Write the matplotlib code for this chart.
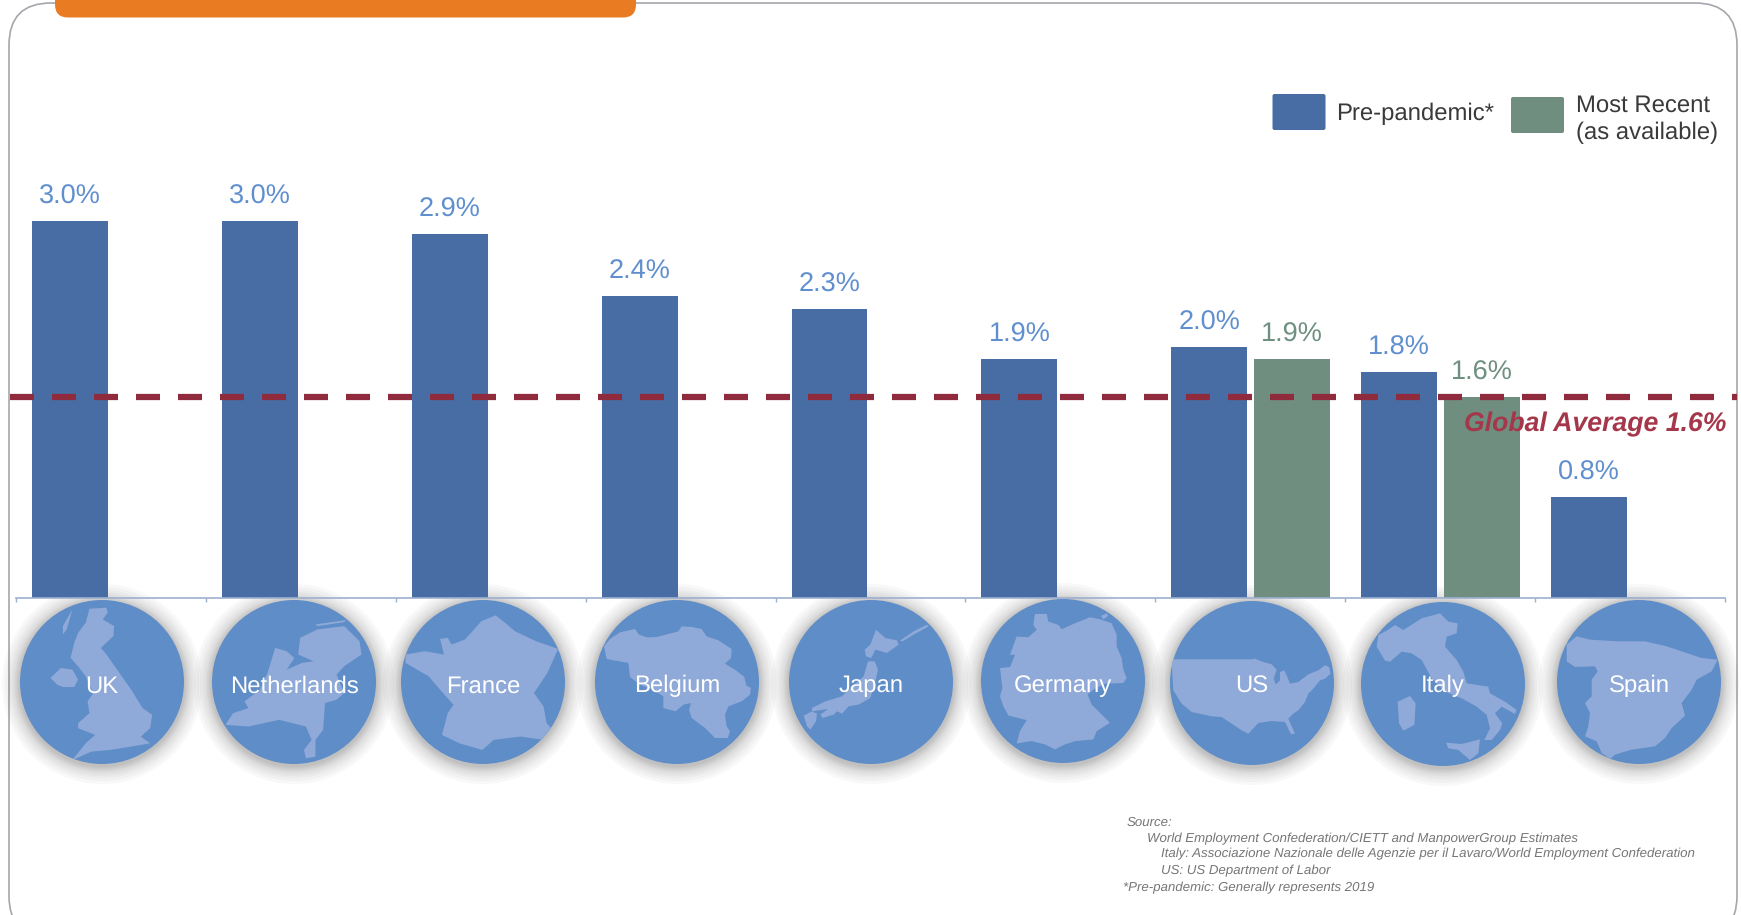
import matplotlib
matplotlib.use("Agg")
import matplotlib.pyplot as plt
from matplotlib.patches import Circle, FancyBboxPatch, Polygon
import numpy as np

plt.rcParams["font.family"] = ["Liberation Sans", "DejaVu Sans"]
plt.rcParams["text.hinting"] = "none"

W, H = 1741, 915

# chart values
countries = ["UK", "Netherlands", "France", "Belgium", "Japan", "Germany", "US", "Italy", "Spain"]
pre_pandemic = [3.0, 3.0, 2.9, 2.4, 2.3, 1.9, 2.0, 1.8, 0.8]
most_recent = [None, None, None, None, None, None, 1.9, 1.6, None]
global_average = 1.6

BLUE = "#476DA4"
GREEN = "#6F8E7F"
LABEL_BLUE = "#5F8FCE"
LABEL_GREEN = "#6F8F80"
RED = "#8F2B3C"
DISC = "#5F8DC8"
LAND = "#8FA9D8"

# country silhouettes, traced by eye: centre x, centre y, radius x, radius y, outlines
uk_map = (268, 307, 216, 245, [
    [(235, 88), (280, 85), (283, 100), (270, 120), (300, 140), (298, 170), (265, 205), (280, 225), (320, 290),
     (345, 330), (375, 385), (400, 405), (395, 445), (370, 470), (395, 490), (345, 500), (290, 510), (240, 515),
     (190, 540), (225, 490), (250, 465), (205, 445), (205, 430), (235, 400), (230, 365), (245, 340), (225, 290),
     (205, 260), (185, 235), (195, 190), (205, 160), (225, 130)],
    [(132, 295), (160, 265), (190, 270), (205, 300), (195, 322), (165, 322), (150, 315)],
    [(165, 140), (190, 90), (175, 150), (165, 165)],
])
nl_map = (769, 307, 214, 245, [
    [(785, 175), (830, 150), (900, 140), (940, 185), (945, 225), (900, 260), (880, 285), (900, 340), (880, 360),
     (850, 370), (845, 450), (825, 480), (825, 530), (800, 535), (795, 510), (815, 480), (800, 440), (730, 420),
     (650, 440), (590, 435), (610, 400), (650, 385), (640, 365), (680, 330), (700, 280), (720, 205), (750, 215),
     (770, 235), (750, 270), (790, 250), (820, 245), (780, 225)],
    [(825, 135), (905, 122), (900, 128), (830, 140)],
])
fr_map = (1262, 307, 214, 245, [
    [(1258, 125), (1295, 108), (1325, 135), (1345, 155), (1400, 185), (1458, 208), (1430, 280), (1395, 340),
     (1420, 380), (1428, 430), (1440, 445), (1420, 480), (1360, 470), (1290, 480), (1260, 510), (1200, 490),
     (1155, 465), (1170, 400), (1185, 375), (1150, 330), (1120, 290), (1060, 250), (1060, 225), (1110, 215),
     (1160, 225), (1150, 178), (1170, 175), (1180, 195), (1215, 180)],
])
be_map = (276, 277, 246, 246, [
    [(57, 170), (75, 148), (105, 128), (150, 118), (162, 135), (185, 143), (215, 142), (250, 133), (280, 125),
     (290, 110), (320, 112), (350, 118), (365, 140), (400, 152), (440, 178), (438, 205), (420, 222), (450, 240),
     (478, 262), (484, 288), (498, 295), (495, 315), (470, 335), (430, 350), (420, 375), (425, 410), (435, 425),
     (428, 445), (390, 445), (360, 415), (320, 385), (312, 360), (318, 340), (295, 345), (272, 365), (235, 355),
     (235, 320), (205, 300), (165, 285), (135, 262), (130, 220), (65, 208)],
])
jp_map = (857, 277, 246, 246, [
    [(872, 120), (900, 145), (935, 152), (940, 165), (905, 190), (870, 180), (858, 205), (842, 200), (838, 180),
     (855, 165)],
    [(848, 215), (868, 215), (878, 240), (868, 285), (855, 325), (820, 345), (790, 350), (770, 372), (755, 365),
     (745, 375), (712, 385), (705, 375), (728, 358), (680, 365), (680, 355), (720, 335), (770, 320), (800, 290),
     (835, 260)],
    [(655, 378), (680, 365), (695, 372), (692, 395), (675, 420), (665, 410)],
    [(945, 152), (985, 125), (1025, 105), (1030, 110), (990, 132), (950, 156)],
])
de_map = (294, 274, 246, 247, [
    [(210, 72), (245, 72), (250, 95), (280, 105), (290, 118), (330, 100), (375, 82), (405, 88), (440, 100),
     (455, 135), (455, 170), (470, 205), (475, 240), (485, 265), (475, 280), (420, 282), (385, 300), (368, 315),
     (380, 345), (435, 400), (395, 425), (385, 450), (330, 455), (300, 465), (270, 480), (240, 465), (200, 455),
     (155, 462), (165, 425), (185, 392), (130, 378), (115, 350), (105, 320), (112, 295), (105, 235), (135, 232),
     (150, 195), (135, 195), (155, 140), (190, 142), (215, 120), (205, 105)],
    [(408, 78), (425, 70), (430, 78), (415, 88)],
])
us_map = (861, 278, 246, 246, [
    [(620, 207), (860, 207), (870, 205), (895, 215), (920, 222), (935, 238), (926, 265), (932, 282), (945, 270),
     (945, 245), (958, 240), (968, 262), (975, 280), (1000, 275), (1030, 252), (1060, 240), (1080, 225),
     (1092, 230), (1097, 250), (1080, 265), (1065, 270), (1045, 295), (1030, 310), (1020, 335), (1000, 360),
     (985, 370), (970, 385), (990, 430), (978, 432), (960, 395), (920, 392), (880, 398), (850, 430), (830, 420),
     (800, 400), (770, 380), (740, 378), (680, 365), (650, 340), (625, 300), (622, 250)],
])
it_map = (294, 282, 246, 246, [
    [(100, 135), (125, 122), (150, 105), (175, 120), (230, 85), (285, 70), (310, 95), (338, 100), (335, 130),
     (305, 140), (300, 170), (335, 210), (355, 245), (365, 280), (430, 290), (435, 310), (480, 335), (515, 360),
     (510, 372), (470, 350), (450, 370), (472, 400), (465, 420), (440, 450), (418, 450), (435, 415), (425, 375),
     (395, 350), (350, 325), (300, 305), (260, 265), (230, 210), (200, 190), (170, 185), (135, 215), (120, 212),
     (95, 170)],
    [(158, 335), (195, 318), (212, 340), (208, 405), (175, 422), (162, 400)],
    [(303, 458), (350, 462), (405, 448), (400, 490), (375, 510), (340, 480), (310, 475)],
])
es_map = (882, 277, 246, 246, [
    [(665, 165), (695, 140), (735, 150), (820, 155), (900, 155), (965, 170), (1010, 185), (1070, 205), (1118, 210),
     (1100, 245), (1055, 270), (1040, 300), (1010, 340), (1020, 378), (980, 415), (960, 445), (930, 470),
     (860, 480), (810, 495), (795, 508), (770, 490), (755, 455), (720, 440), (730, 410), (735, 370), (720, 340),
     (740, 320), (740, 270), (758, 245), (750, 230), (690, 232), (665, 215)],
])
country_maps = [uk_map, nl_map, fr_map, be_map, jp_map, de_map, us_map, it_map, es_map]
disc_x = [102, 294, 483, 677, 871, 1063, 1252, 1443, 1639]
disc_y = [682, 682, 682, 682, 682, 681, 683, 684, 682]
DISC_R = 82

fig = plt.figure(figsize=(W / 100, H / 100), dpi=100)

# pixel-space layer for the slide furniture
bg = fig.add_axes([0, 0, 1, 1])
bg.set_xlim(0, W)
bg.set_ylim(H, 0)
bg.axis("off")

bg.add_patch(FancyBboxPatch((9, 3), 1728, 935, boxstyle="round,pad=0,rounding_size=42",
                            fc="white", ec="#A6A6AC", lw=1.2))
bg.add_patch(FancyBboxPatch((55, -40), 581, 57.5, boxstyle="round,pad=0,rounding_size=13",
                            fc="#E97C22", ec="none"))

for name, cx, cy, (mx, my, rx, ry, outlines) in zip(countries, disc_x, disc_y, country_maps):
    # soft shadow, packed tighter near the edge of the disc
    for grow in [18, 15, 12, 10, 8, 6, 5, 4, 3, 2, 1]:
        bg.add_patch(Circle((cx, cy + 2), DISC_R + grow, fc="#666666", ec="none", alpha=0.045))
    disc = Circle((cx, cy), DISC_R, fc=DISC, ec="none", zorder=3)
    bg.add_patch(disc)
    for outline in outlines:
        pts = [(cx + (x - mx) / rx * DISC_R, cy + (y - my) / ry * DISC_R) for x, y in outline]
        land = Polygon(pts, closed=True, fc=LAND, ec="none", zorder=4)
        bg.add_patch(land)
        land.set_clip_path(disc)
    bg.text(cx, 692.5, name, color="white", fontsize=17.2, ha="center", va="baseline", zorder=5)

# legend
bg.add_patch(FancyBboxPatch((1272.5, 94), 53, 36, boxstyle="round,pad=0,rounding_size=2", fc=BLUE, ec="none"))
bg.add_patch(FancyBboxPatch((1511, 97), 53, 36, boxstyle="round,pad=0,rounding_size=2", fc=GREEN, ec="none"))
bg.text(1336, 114, "Pre-pandemic*", color="#3A3A3A", fontsize=17.2, va="center")
bg.text(1576, 106, "Most Recent", color="#3A3A3A", fontsize=17.2, va="center")
bg.text(1576, 133, "(as available)", color="#3A3A3A", fontsize=17.2, va="center")

# source note
notes = [
    (1127, 823, "Source:"),
    (1147, 839, "World Employment Confederation/CIETT and ManpowerGroup Estimates"),
    (1161, 854, "Italy: Associazione Nazionale delle Agenzie per il Lavaro/World Employment Confederation"),
    (1161, 871, "US: US Department of Labor"),
    (1123, 888, "*Pre-pandemic: Generally represents 2019"),
]
for x, y, line in notes:
    bg.text(x, y, line, color="#767676", fontsize=9.5, style="italic", va="center")

# the bar chart
ax = fig.add_axes([16 / W, (H - 597.5) / H, 1709 / W, 3.5 * 125.5 / H])
ax.patch.set_alpha(0)
pos = np.arange(len(countries))
width = 0.4
blue_x = pos - 0.216
green_x = pos + 0.2185
recent = [np.nan if v is None else v for v in most_recent]
ax.bar(blue_x, pre_pandemic, width, color=BLUE, zorder=2)
ax.bar(green_x, recent, width, color=GREEN, zorder=2)

for x, v in zip(blue_x, pre_pandemic):
    ax.annotate(f"{v:.1f}%", (x, v), xytext=(0, 12.4), textcoords="offset points",
                ha="center", va="baseline", color=LABEL_BLUE, fontsize=19.5)
for x, v in zip(green_x, most_recent):
    if v is not None:
        ax.annotate(f"{v:.1f}%", (x, v), xytext=(0, 12.4), textcoords="offset points",
                    ha="center", va="baseline", color=LABEL_GREEN, fontsize=19.5)

ax.plot([-0.5 - 6 / 190, 8.5 + 12 / 190], [global_average - 0.006, global_average - 0.006], color=RED, lw=4.5,
        linestyle=(0, (3.84, 2.88)), dash_capstyle="butt", clip_on=False, zorder=3)
ax.text(8.51, global_average - 0.22, f"Global Average {global_average}%", color="#A5374A", fontsize=19.2,
        fontweight="bold", style="italic", ha="right", va="center", zorder=4)

ax.set_xlim(-0.5, 8.5)
ax.set_ylim(0, 3.5)
ax.set_yticks([])
ax.set_xticks(np.arange(len(countries) + 1) - 0.5)
ax.set_xticklabels([])
ax.tick_params(axis="x", length=3, width=1, color="#9DB0D0")
for side in ["top", "left", "right"]:
    ax.spines[side].set_visible(False)
ax.spines["bottom"].set_color("#9DB0D0")
ax.spines["bottom"].set_linewidth(1.2)

fig.savefig("out.png", dpi=100)
